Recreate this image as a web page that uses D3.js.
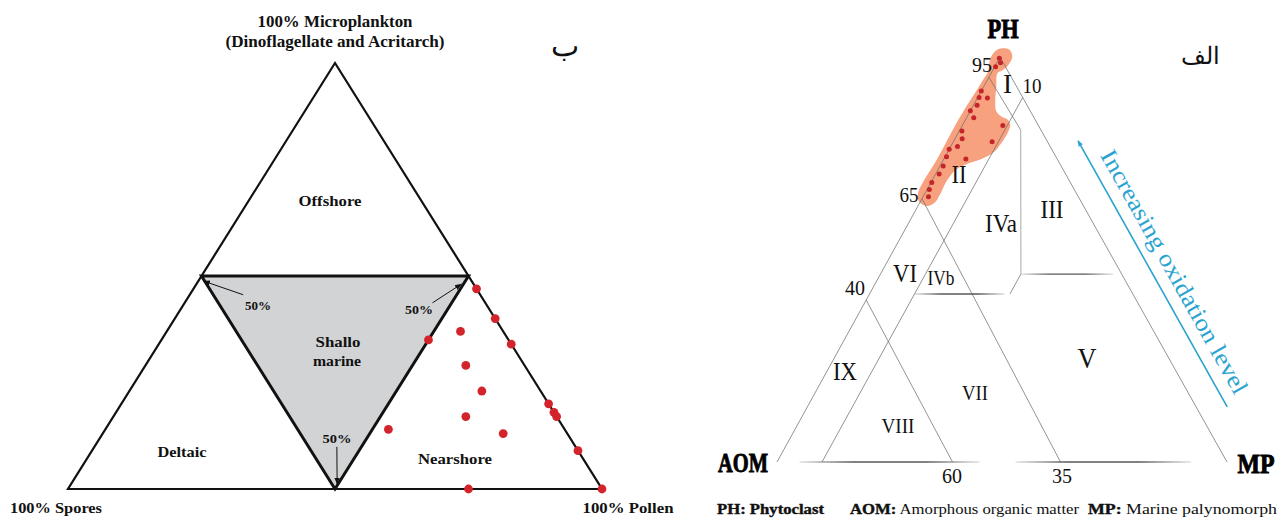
<!DOCTYPE html>
<html>
<head>
<meta charset="utf-8">
<script src="https://cdn.jsdelivr.net/npm/d3@7/dist/d3.min.js"></script>
<style>
  body { margin: 0; background: #fff; }
  text { font-family: "Liberation Serif", "Times New Roman", serif; }
</style>
</head>
<body>
<svg id="chart" width="1282" height="520"></svg>
<script>
// ---- left diagram (ب): [microplankton, pollen, spores] in %
const leftOuter = [[100, 0, 0], [0, 100, 0], [0, 0, 100]];
const leftInner = [[50, 50, 0], [50, 0, 50], [0, 50, 50]];
const leftSamples = [
  [47, 53, 0], [40, 60, 0], [37, 55, 8], [35, 50, 15], [34, 66, 0],
  [29, 60, 11], [23, 66, 11], [20, 80, 0], [18, 82, 0], [17, 83, 0],
  [17, 66, 17], [14, 53, 33], [13, 75, 12], [9, 91, 0], [0, 75, 25], [0, 100, 0]
];
// 50% arrows: [tail, tip]
const leftArrows = [
  [[45.6, 10, 44.4], [48.8, 1, 50.2]],
  [[43.7, 46.4, 9.9], [48.1, 49.6, 2.3]],
  [[9.9, 45.4, 44.7], [1.2, 49.8, 49]]
];

// ---- right diagram (الف): [PH, MP] in %, AOM = rest
const rightEdges = [
  [[100, 0], [0, 0]],
  [[100, 0], [0, 100]]
];
const rightBounds = [
  [[90, 10], [0, 10]],
  [[95, 0], [82, 13.5]],
  [[65, 0], [0, 63]],
  [[40, 0], [0, 39]],
  [[46.4, 31.2], [41.5, 31.2]]
];
const rightVertical = [[82, 13.5], [46.4, 31.2]];
const rightFaded = [
  [[46.4, 31.2], [46.4, 51.7]],
  [[41.5, 10], [41.5, 30]],
  [[0, 5], [0, 45]],
  [[0, 53], [0, 92]]
];
const rightBlob = [
  [96.0, 1.4], [92.7, 2.8], [89.4, 4.2], [86.6, 5.8], [85.3, 7.6], [84.5, 9.4],
  [83.2, 10.6], [81.1, 11.0], [78.6, 10.8], [76.4, 10.2], [74.8, 8.4], [73.6, 5.8],
  [72.2, 4.0], [70.6, 3.5], [68.9, 3.3], [66.1, 3.5], [64.0, 3.3], [63.2, 2.0],
  [64.4, -0.4], [66.5, -1.6], [68.7, -1.8], [71.3, -1.7], [73.8, -1.5], [77.9, -1.5],
  [82.0, -1.6], [86.5, -1.5], [90.6, -1.2], [93.9, -1.0], [96.5, -0.9], [99.8, -2.0],
  [101.9, -1.4], [101.9, 1.0], [100.1, 2.7], [97.9, 2.8], [96.7, 2.2]
];
const rightSamples = [
  [99.7, 0], [98.6, 0.8], [97.6, 0.2], [91.6, 0], [90.0, 0.3], [89.9, 2.2],
  [88.1, 0.8], [86.7, 0], [85.0, 1.6], [81.7, 0.6], [79.8, 1.6], [83.1, 9.0],
  [77.2, 0], [77.9, 1.5], [75.4, 0.3], [74.8, 4.9], [79.1, 8.6], [73.1, 0.7],
  [71.1, 0.8], [69.0, 0.2], [67.3, 0.5], [65.5, 1.2]
];
const oxidationArrow = [[13.6, 93.3], [79.3, 27.6]];

const svg = d3.select("#chart");
const defs = svg.append("defs");

// scales
const lx = d3.scaleLinear().domain([0, 1]).range([68, 602]);
const ly = d3.scaleLinear().domain([0, 1]).range([489, 63]);
const rx = d3.scaleLinear().domain([0, 1]).range([777, 1227]);
const ry = d3.scaleLinear().domain([0, 1]).range([462, 57]);
const rApex = 0.4956;

const leftPt = ([m, p, s]) => {
  const t = m + p + s;
  return [lx(p / t + (m / t) * 0.5), ly(m / t)];
};
const rightPt = ([ph, mp]) => [rx(mp / 100 + (ph / 100) * rApex), ry(ph / 100)];

const line = d3.line();

// arrow markers
defs.append("marker").attr("id", "arrBlack")
  .attr("viewBox", "0 0 10 10").attr("refX", 9).attr("refY", 5)
  .attr("markerWidth", 7).attr("markerHeight", 7).attr("markerUnits", "userSpaceOnUse")
  .attr("orient", "auto")
  .append("path").attr("d", "M0,1 L10,5 L0,9 Z").attr("fill", "#111");
defs.append("marker").attr("id", "arrBlue")
  .attr("viewBox", "0 0 10 10").attr("refX", 9).attr("refY", 5)
  .attr("markerWidth", 7).attr("markerHeight", 6).attr("markerUnits", "userSpaceOnUse")
  .attr("orient", "auto")
  .append("path").attr("d", "M0,1 L10,5 L0,9 Z").attr("fill", "#2aa3cf");

// ======== left diagram ========
const gl = svg.append("g");

gl.append("path")
  .attr("d", line(leftOuter.map(leftPt)) + "Z")
  .attr("fill", "#fff").attr("stroke", "#111").attr("stroke-width", 2.2)
  .attr("stroke-linejoin", "miter");

gl.append("path")
  .attr("d", line(leftInner.map(leftPt)) + "Z")
  .attr("fill", "#d2d3d5").attr("stroke", "#111").attr("stroke-width", 3)
  .attr("stroke-linejoin", "miter");

leftArrows.forEach(a => {
  gl.append("path")
    .attr("d", line(a.map(leftPt)))
    .attr("stroke", "#111").attr("stroke-width", 1)
    .attr("fill", "none").attr("marker-end", "url(#arrBlack)");
});

gl.selectAll("circle.s").data(leftSamples).join("circle")
  .attr("cx", d => leftPt(d)[0]).attr("cy", d => leftPt(d)[1])
  .attr("r", 4.4).attr("fill", "#d3232b");

const leftLabels = [
  { t: "100% Microplankton", x: 335, y: 27, fs: 17, w: 155 },
  { t: "(Dinoflagellate and Acritarch)", x: 335, y: 47, fs: 17, w: 219 },
  { t: "Offshore", x: 330, y: 206, fs: 15, w: 63 },
  { t: "Shallo", x: 338, y: 347, fs: 15, w: 45 },
  { t: "marine", x: 337, y: 366, fs: 15, w: 48 },
  { t: "Deltaic", x: 182, y: 457, fs: 15, w: 49 },
  { t: "Nearshore", x: 455, y: 464, fs: 15, w: 74 },
  { t: "100% Spores", x: 56, y: 513, fs: 15, w: 92 },
  { t: "100% Pollen", x: 628, y: 513, fs: 15, w: 91 },
  { t: "50%", x: 258, y: 310, fs: 13, w: 26 },
  { t: "50%", x: 419, y: 314, fs: 13, w: 28 },
  { t: "50%", x: 337, y: 443, fs: 13, w: 29 }
];
gl.selectAll("text.lab").data(leftLabels).join("text")
  .attr("x", d => d.x).attr("y", d => d.y)
  .attr("text-anchor", "middle").attr("font-weight", "bold")
  .attr("font-size", d => d.fs).attr("fill", "#111")
  .attr("textLength", d => d.w).attr("lengthAdjust", "spacingAndGlyphs")
  .text(d => d.t);

gl.append("text").attr("x", 565).attr("y", 56)
  .attr("text-anchor", "middle").attr("font-size", 30).attr("fill", "#111")
  .attr("font-family", "'DejaVu Sans', 'Noto Sans', sans-serif")
  .text("ب");

// ======== right diagram ========
const gr = svg.append("g");

gr.append("path")
  .attr("d", d3.line().curve(d3.curveCatmullRomClosed.alpha(0.5))(rightBlob.map(rightPt)))
  .attr("fill", "#f7a17e");

rightEdges.concat(rightBounds).forEach(seg => {
  gr.append("path").attr("d", line(seg.map(rightPt)))
    .attr("stroke", "#6f6f6f").attr("stroke-width", 0.75).attr("fill", "none");
});

gr.append("path").attr("d", line(rightVertical.map(rightPt)))
  .attr("stroke", "#bdbdbd").attr("stroke-width", 1.3).attr("fill", "none");

rightFaded.forEach((seg, i) => {
  const p0 = rightPt(seg[0]), p1 = rightPt(seg[1]);
  const gid = "fade" + i;
  const grad = defs.append("linearGradient").attr("id", gid)
    .attr("gradientUnits", "userSpaceOnUse")
    .attr("x1", p0[0]).attr("y1", p0[1]).attr("x2", p1[0]).attr("y2", p1[1]);
  [[0, 0.15], [0.3, 0.9], [0.7, 0.9], [1, 0.15]].forEach(([o, a]) => {
    grad.append("stop").attr("offset", o).attr("stop-color", "#444").attr("stop-opacity", a);
  });
  gr.append("path").attr("d", line([p0, p1]))
    .attr("stroke", `url(#${gid})`).attr("stroke-width", 1.4).attr("fill", "none");
});

gr.selectAll("circle.s").data(rightSamples).join("circle")
  .attr("cx", d => rightPt(d)[0]).attr("cy", d => rightPt(d)[1])
  .attr("r", 2.5).attr("fill", "#c4252a");

const rightLabels = [
  { t: "95", x: 982, y: 72, fs: 20, w: 20 },
  { t: "10", x: 1032, y: 93, fs: 20, w: 19 },
  { t: "65", x: 909, y: 202, fs: 20, w: 19 },
  { t: "40", x: 855, y: 295, fs: 20, w: 20 },
  { t: "60", x: 952, y: 483, fs: 20, w: 20 },
  { t: "35", x: 1062, y: 483, fs: 20, w: 20 },
  { t: "I", x: 1007.5, y: 93, fs: 28, w: 9 },
  { t: "II", x: 959, y: 183, fs: 25, w: 15 },
  { t: "III", x: 1052, y: 218, fs: 26, w: 23 },
  { t: "IVa", x: 1001, y: 232, fs: 26, w: 32 },
  { t: "IVb", x: 941, y: 285, fs: 20, w: 27 },
  { t: "VI", x: 905, y: 282, fs: 25, w: 24 },
  { t: "IX", x: 845, y: 380, fs: 26, w: 24 },
  { t: "VIII", x: 898, y: 433, fs: 22, w: 33 },
  { t: "VII", x: 975, y: 400, fs: 22, w: 26 },
  { t: "V", x: 1087, y: 368, fs: 29, w: 19 }
];
gr.selectAll("text.lab").data(rightLabels).join("text")
  .attr("x", d => d.x).attr("y", d => d.y)
  .attr("text-anchor", "middle").attr("font-size", d => d.fs).attr("fill", "#111")
  .attr("textLength", d => d.w).attr("lengthAdjust", "spacingAndGlyphs")
  .text(d => d.t);

const vertexLabels = [
  { t: "PH", x: 1003, y: 38, w: 31 },
  { t: "AOM", x: 743, y: 472, w: 50 },
  { t: "MP", x: 1256, y: 473, w: 37 }
];
gr.selectAll("text.vx").data(vertexLabels).join("text")
  .attr("x", d => d.x).attr("y", d => d.y)
  .attr("text-anchor", "middle").attr("font-size", 27).attr("font-weight", "bold")
  .attr("fill", "#000").attr("stroke", "#000").attr("stroke-width", 0.9)
  .attr("textLength", d => d.w).attr("lengthAdjust", "spacingAndGlyphs")
  .text(d => d.t);

gr.append("text").attr("x", 1200).attr("y", 64)
  .attr("text-anchor", "middle").attr("font-size", 24).attr("fill", "#111")
  .attr("font-family", "'DejaVu Sans', 'Noto Sans', sans-serif")
  .text("الف");

// oxidation arrow + label
const oa = oxidationArrow.map(rightPt);
gr.append("path").attr("d", line(oa))
  .attr("stroke", "#2aa3cf").attr("stroke-width", 1.6).attr("fill", "none")
  .attr("marker-end", "url(#arrBlue)");
const dx = oa[0][0] - oa[1][0], dy = oa[0][1] - oa[1][1];
const len = Math.hypot(dx, dy);
const ux = dx / len, uy = dy / len;           // direction down the arrow
const px = -uy, py = ux;                       // perpendicular
const mid = [(oa[0][0] + oa[1][0]) / 2, (oa[0][1] + oa[1][1]) / 2];
const tx = mid[0] + ux * 8.7 - px * 12, ty = mid[1] + uy * 8.7 - py * 12;
const ang = Math.atan2(uy, ux) * 180 / Math.PI;
gr.append("text")
  .attr("transform", `translate(${tx},${ty}) rotate(${ang})`)
  .attr("text-anchor", "middle").attr("font-size", 24).attr("fill", "#2aa3cf")
  .attr("textLength", 276).attr("lengthAdjust", "spacingAndGlyphs")
  .text("Increasing oxidation level");

// legend
const legendItems = [
  { k: "PH:", v: " Phytoclast", x: 717, vb: true, w: 107 },
  { k: "AOM:", v: " Amorphous organic matter", x: 850, vb: false, w: 229 },
  { k: "MP:", v: " Marine palynomorph", x: 1088, vb: false, w: 189 }
];
legendItems.forEach(d => {
  const t = gr.append("text").attr("x", d.x).attr("y", 514)
    .attr("font-size", 15).attr("fill", "#111")
    .attr("textLength", d.w).attr("lengthAdjust", "spacingAndGlyphs");
  t.append("tspan").attr("font-weight", "bold").attr("stroke", "#111").attr("stroke-width", 0.4).text(d.k);
  t.append("tspan").attr("font-weight", d.vb ? "bold" : "normal")
    .attr("stroke", d.vb ? "#111" : "none").attr("stroke-width", 0.4).text(d.v);
});
</script>
</body>
</html>
